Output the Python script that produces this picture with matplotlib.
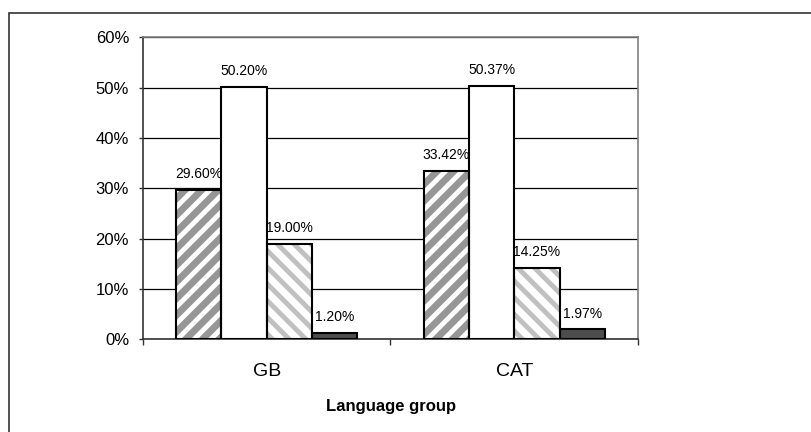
import numpy as np
import matplotlib
matplotlib.use('Agg')
import matplotlib.pyplot as plt
from matplotlib.patches import Rectangle
from matplotlib.ticker import FuncFormatter, FixedLocator

groups = ['GB', 'CAT']
series_a = [29.60, 33.42]
series_b = [50.20, 50.37]
series_c = [19.00, 14.25]
series_d = [1.20, 1.97]
y_ticks = [0, 10, 20, 30, 40, 50, 60]

plt.rcParams['font.family'] = ['Liberation Sans', 'DejaVu Sans']
plt.rcParams['hatch.linewidth'] = 3.5

# (face, hatch colour, hatch) per series
styles = [
    ('#969696', 'white', '//'),
    ('white', 'white', ''),
    ('white', '#c0c0c0', '\\\\'),
    ('#4d4d4d', '#4d4d4d', ''),
]

fig = plt.figure(figsize=(8.11, 4.32), dpi=100)
ax = fig.add_axes([0.1763, 0.2146, 0.6104, 0.6991])

x = np.arange(len(groups))
width = 0.183
all_series = [series_a, series_b, series_c, series_d]
for i, (vals, (face, hcol, hatch)) in enumerate(zip(all_series, styles)):
    pos = x + (i - 1.5) * width
    # fill + hatch, then black outline on top
    ax.bar(pos, vals, width, color=face, edgecolor=hcol, hatch=hatch,
           linewidth=0, zorder=2)
    ax.bar(pos, vals, width, facecolor='none', edgecolor='black',
           linewidth=1.5, zorder=3)
    for px, v in zip(pos, vals):
        ax.annotate(f'{v:.2f}%', (px, v), xytext=(0, 8.5),
                    textcoords='offset points', ha='center', va='baseline',
                    fontsize=10)

ax.set_xlim(-0.5, len(groups) - 0.5)
ax.set_ylim(0, 60)
ax.set_yticks(y_ticks)
ax.yaxis.set_major_formatter(FuncFormatter(lambda v, p: f'{int(v)}%'))
ax.tick_params(axis='y', direction='out', length=3, width=1, pad=7,
               labelsize=12, color='#333333')

ax.set_xticks(x)
ax.set_xticklabels(groups)
ax.xaxis.set_minor_locator(FixedLocator(np.arange(len(groups) + 1) - 0.5))
ax.tick_params(axis='x', which='major', length=0, pad=17, labelsize=14)
ax.tick_params(axis='x', which='minor', direction='out', length=4, width=1,
               color='#333333')

ax.set_axisbelow(True)
ax.yaxis.grid(True, color='black', linewidth=0.9)
for side in ['top', 'right']:
    ax.spines[side].set_color('#808080')
    ax.spines[side].set_linewidth(1.2)
for side in ['left', 'bottom']:
    ax.spines[side].set_color('#333333')
    ax.spines[side].set_linewidth(1.2)

fig.text(391 / 811, 1 - 407 / 432, 'Language group', ha='center',
         va='center', fontsize=12, fontweight='bold')

# outer chart frame
fig.patches.append(Rectangle((9 / 811, -0.1), 1.1, 1.1 - 13 / 432,
                             transform=fig.transFigure, fill=False,
                             edgecolor='#333333', linewidth=1.2))

fig.savefig('out.png', dpi=100)
